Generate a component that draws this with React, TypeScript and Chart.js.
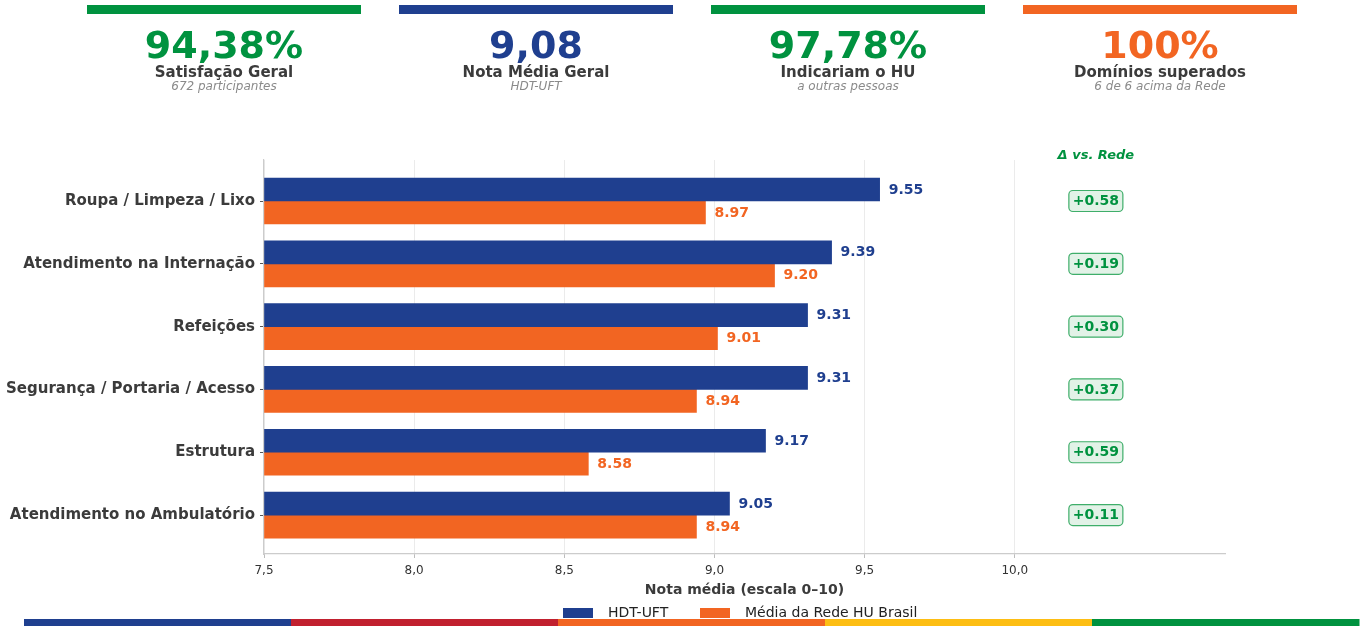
import React, { useEffect, useRef } from "react";
import { Chart, registerables } from "chart.js";

Chart.register(...registerables);

// ---------- data ----------
const CATEGORIES = [
  "Roupa / Limpeza / Lixo",
  "Atendimento na Internação",
  "Refeições",
  "Segurança / Portaria / Acesso",
  "Estrutura",
  "Atendimento no Ambulatório",
];
const HDT_UFT = [9.55, 9.39, 9.31, 9.31, 9.17, 9.05];
const REDE_HU = [8.97, 9.2, 9.01, 8.94, 8.58, 8.94];
const SERIES_NAMES = ["HDT-UFT", "Média da Rede HU Brasil"];
const X_TICKS = [7.5, 8.0, 8.5, 9.0, 9.5, 10.0];
const X_MIN = 7.5;
const X_MAX = 10.7;
const BADGE_X = 10.27;
const X_TITLE = "Nota média (escala 0–10)";
const DELTA_TITLE = "Δ vs. Rede";

const KPI_VALUES = ["94,38%", "9,08", "97,78%", "100%"];
const KPI_TITLES = ["Satisfação Geral", "Nota Média Geral", "Indicariam o HU", "Domínios superados"];
const KPI_SUBTITLES = ["672 participantes", "HDT-UFT", "a outras pessoas", "6 de 6 acima da Rede"];

// ---------- styles ----------
const BLUE = "#1F3F8F";
const ORANGE = "#F26522";
const GREEN = "#00923F";
const RED = "#C1202F";
const YELLOW = "#FDBE14";
const KPI_COLORS = [GREEN, BLUE, GREEN, ORANGE];
const STRIPE_COLORS = [BLUE, RED, ORANGE, YELLOW, GREEN];
const FONT = "'DejaVu Sans', 'Liberation Sans', sans-serif";
const DARK = "#3b3b3b";

const W = 1366;
const H = 626;

const overlayPlugin = {
  id: "overlay",
  afterDatasetsDraw(chart: any) {
    const ctx = chart.ctx;
    const xs = chart.scales.x;
    const ys = chart.scales.y;
    ctx.save();
    // value labels
    const colors = [BLUE, ORANGE];
    chart.data.datasets.forEach((ds: any, di: number) => {
      const meta = chart.getDatasetMeta(di);
      meta.data.forEach((el: any, i: number) => {
        const v = ds.data[i].x;
        ctx.font = `bold 14px ${FONT}`;
        ctx.fillStyle = colors[di];
        ctx.textAlign = "left";
        ctx.textBaseline = "middle";
        ctx.fillText(v.toFixed(2), el.x + 9, el.y + 0.5);
      });
    });
    // delta badges
    const bx = xs.getPixelForValue(BADGE_X);
    ctx.font = `bold italic 13px ${FONT}`;
    ctx.fillStyle = GREEN;
    ctx.textAlign = "center";
    ctx.textBaseline = "middle";
    ctx.fillText(DELTA_TITLE, bx, 156);
    CATEGORIES.forEach((_, i) => {
      const y = ys.getPixelForValue(i);
      const d = HDT_UFT[i] - REDE_HU[i];
      const txt = (d >= 0 ? "+" : "") + d.toFixed(2);
      const w = 54, h = 21;
      ctx.beginPath();
      (ctx as any).roundRect(bx - w / 2, y - h / 2, w, h, 4);
      ctx.fillStyle = "#E2F2E7";
      ctx.fill();
      ctx.lineWidth = 1.2;
      ctx.strokeStyle = "#3FAE6A";
      ctx.stroke();
      ctx.font = `bold 14px ${FONT}`;
      ctx.fillStyle = GREEN;
      ctx.fillText(txt, bx, y + 0.5);
    });
    ctx.restore();
  },
  afterDraw(chart: any) {
    const ctx = chart.ctx;
    const xs = chart.scales.x;
    ctx.save();
    // KPI header
    const cardW = 274;
    const gap = 38;
    const startX = 87;
    KPI_VALUES.forEach((val, i) => {
      const x0 = startX + i * (cardW + gap);
      const cx = x0 + cardW / 2;
      ctx.fillStyle = KPI_COLORS[i];
      ctx.fillRect(x0, 5, cardW, 9);
      ctx.textAlign = "center";
      ctx.textBaseline = "alphabetic";
      ctx.font = `bold 38px ${FONT}`;
      ctx.fillText(val, cx, 57.5);
      ctx.font = `bold 15px ${FONT}`;
      ctx.fillStyle = DARK;
      ctx.fillText(KPI_TITLES[i], cx, 77);
      ctx.font = `italic 12px ${FONT}`;
      ctx.fillStyle = "#8a8a8a";
      ctx.fillText(KPI_SUBTITLES[i], cx, 90);
    });
    // x title
    const midX = (xs.left + xs.right) / 2;
    ctx.font = `bold 14px ${FONT}`;
    ctx.fillStyle = DARK;
    ctx.textAlign = "center";
    ctx.textBaseline = "middle";
    ctx.fillText(X_TITLE, midX, 590);
    // legend
    ctx.textAlign = "left";
    ctx.font = `14px ${FONT}`;
    const legendItems = [
      { x: 563, color: BLUE, text: SERIES_NAMES[0] },
      { x: 700, color: ORANGE, text: SERIES_NAMES[1] },
    ];
    legendItems.forEach((it) => {
      ctx.fillStyle = it.color;
      ctx.fillRect(it.x, 608, 30, 10);
      ctx.fillStyle = "#222";
      ctx.fillText(it.text, it.x + 45, 613.5);
    });
    // bottom stripe
    const sx = 24, sw = (1359 - 24) / STRIPE_COLORS.length;
    STRIPE_COLORS.forEach((c, i) => {
      ctx.fillStyle = c;
      ctx.fillRect(sx + i * sw, 619, sw + 0.5, 7);
    });
    ctx.restore();
  },
};

export default function App() {
  const ref = useRef<HTMLCanvasElement | null>(null);
  useEffect(() => {
    if (!ref.current) return;
    const chart = new Chart(ref.current, {
      type: "bar",
      data: {
        datasets: [
          {
            label: SERIES_NAMES[0],
            data: HDT_UFT.map((v, i) => ({ x: v, y: i })),
            backgroundColor: BLUE,
            base: X_MIN,
            barThickness: 23,
          } as any,
          {
            label: SERIES_NAMES[1],
            data: REDE_HU.map((v, i) => ({ x: v, y: i })),
            backgroundColor: ORANGE,
            base: X_MIN,
            barThickness: 23,
          } as any,
        ],
      },
      options: {
        indexAxis: "y",
        responsive: false,
        animation: false,
        devicePixelRatio: 1,
        layout: { padding: { top: 160, right: W - 1225, bottom: H - 554 - 30, left: 0 } },
        plugins: { legend: { display: false }, tooltip: { enabled: false } },
        scales: {
          x: {
            type: "linear",
            min: X_MIN,
            max: X_MAX,
            afterBuildTicks: (s: any) => {
              s.ticks = X_TICKS.map((v) => ({ value: v }));
            },
            afterFit: (s: any) => {
              s.height = 30;
            },
            grid: { color: "#ebebeb", tickColor: "#bdbdbd", tickLength: 4, lineWidth: 1 },
            border: { color: "#cccccc", width: 1.2 },
            ticks: {
              padding: 6,
              color: "#333",
              font: { family: FONT, size: 12 },
              callback: (v: any) => Number(v).toFixed(1).replace(".", ","),
            },
          },
          y: {
            type: "linear",
            reverse: true,
            offset: false,
            min: -0.653,
            max: 5.62,
            afterBuildTicks: (s: any) => {
              s.ticks = CATEGORIES.map((_, i) => ({ value: i }));
            },
            afterFit: (s: any) => {
              s.width = 264;
            },
            grid: { drawOnChartArea: false, offset: false, tickColor: "#555", tickLength: 4 },
            border: { color: "#cccccc", width: 1.2 },
            ticks: {
              padding: 5,
              color: DARK,
              font: { family: FONT, size: 15, weight: "bold" },
              callback: (v: any) => CATEGORIES[Number(v)] ?? "",
            },
          },
        },
      },
      plugins: [overlayPlugin],
    } as any);
    return () => chart.destroy();
  }, []);
  return (
    <div style={{ position: "fixed", top: 0, left: 0, width: W, height: H, background: "#fff" }}>
      <canvas ref={ref} width={W} height={H} style={{ display: "block", width: W, height: H }} />
    </div>
  );
}
